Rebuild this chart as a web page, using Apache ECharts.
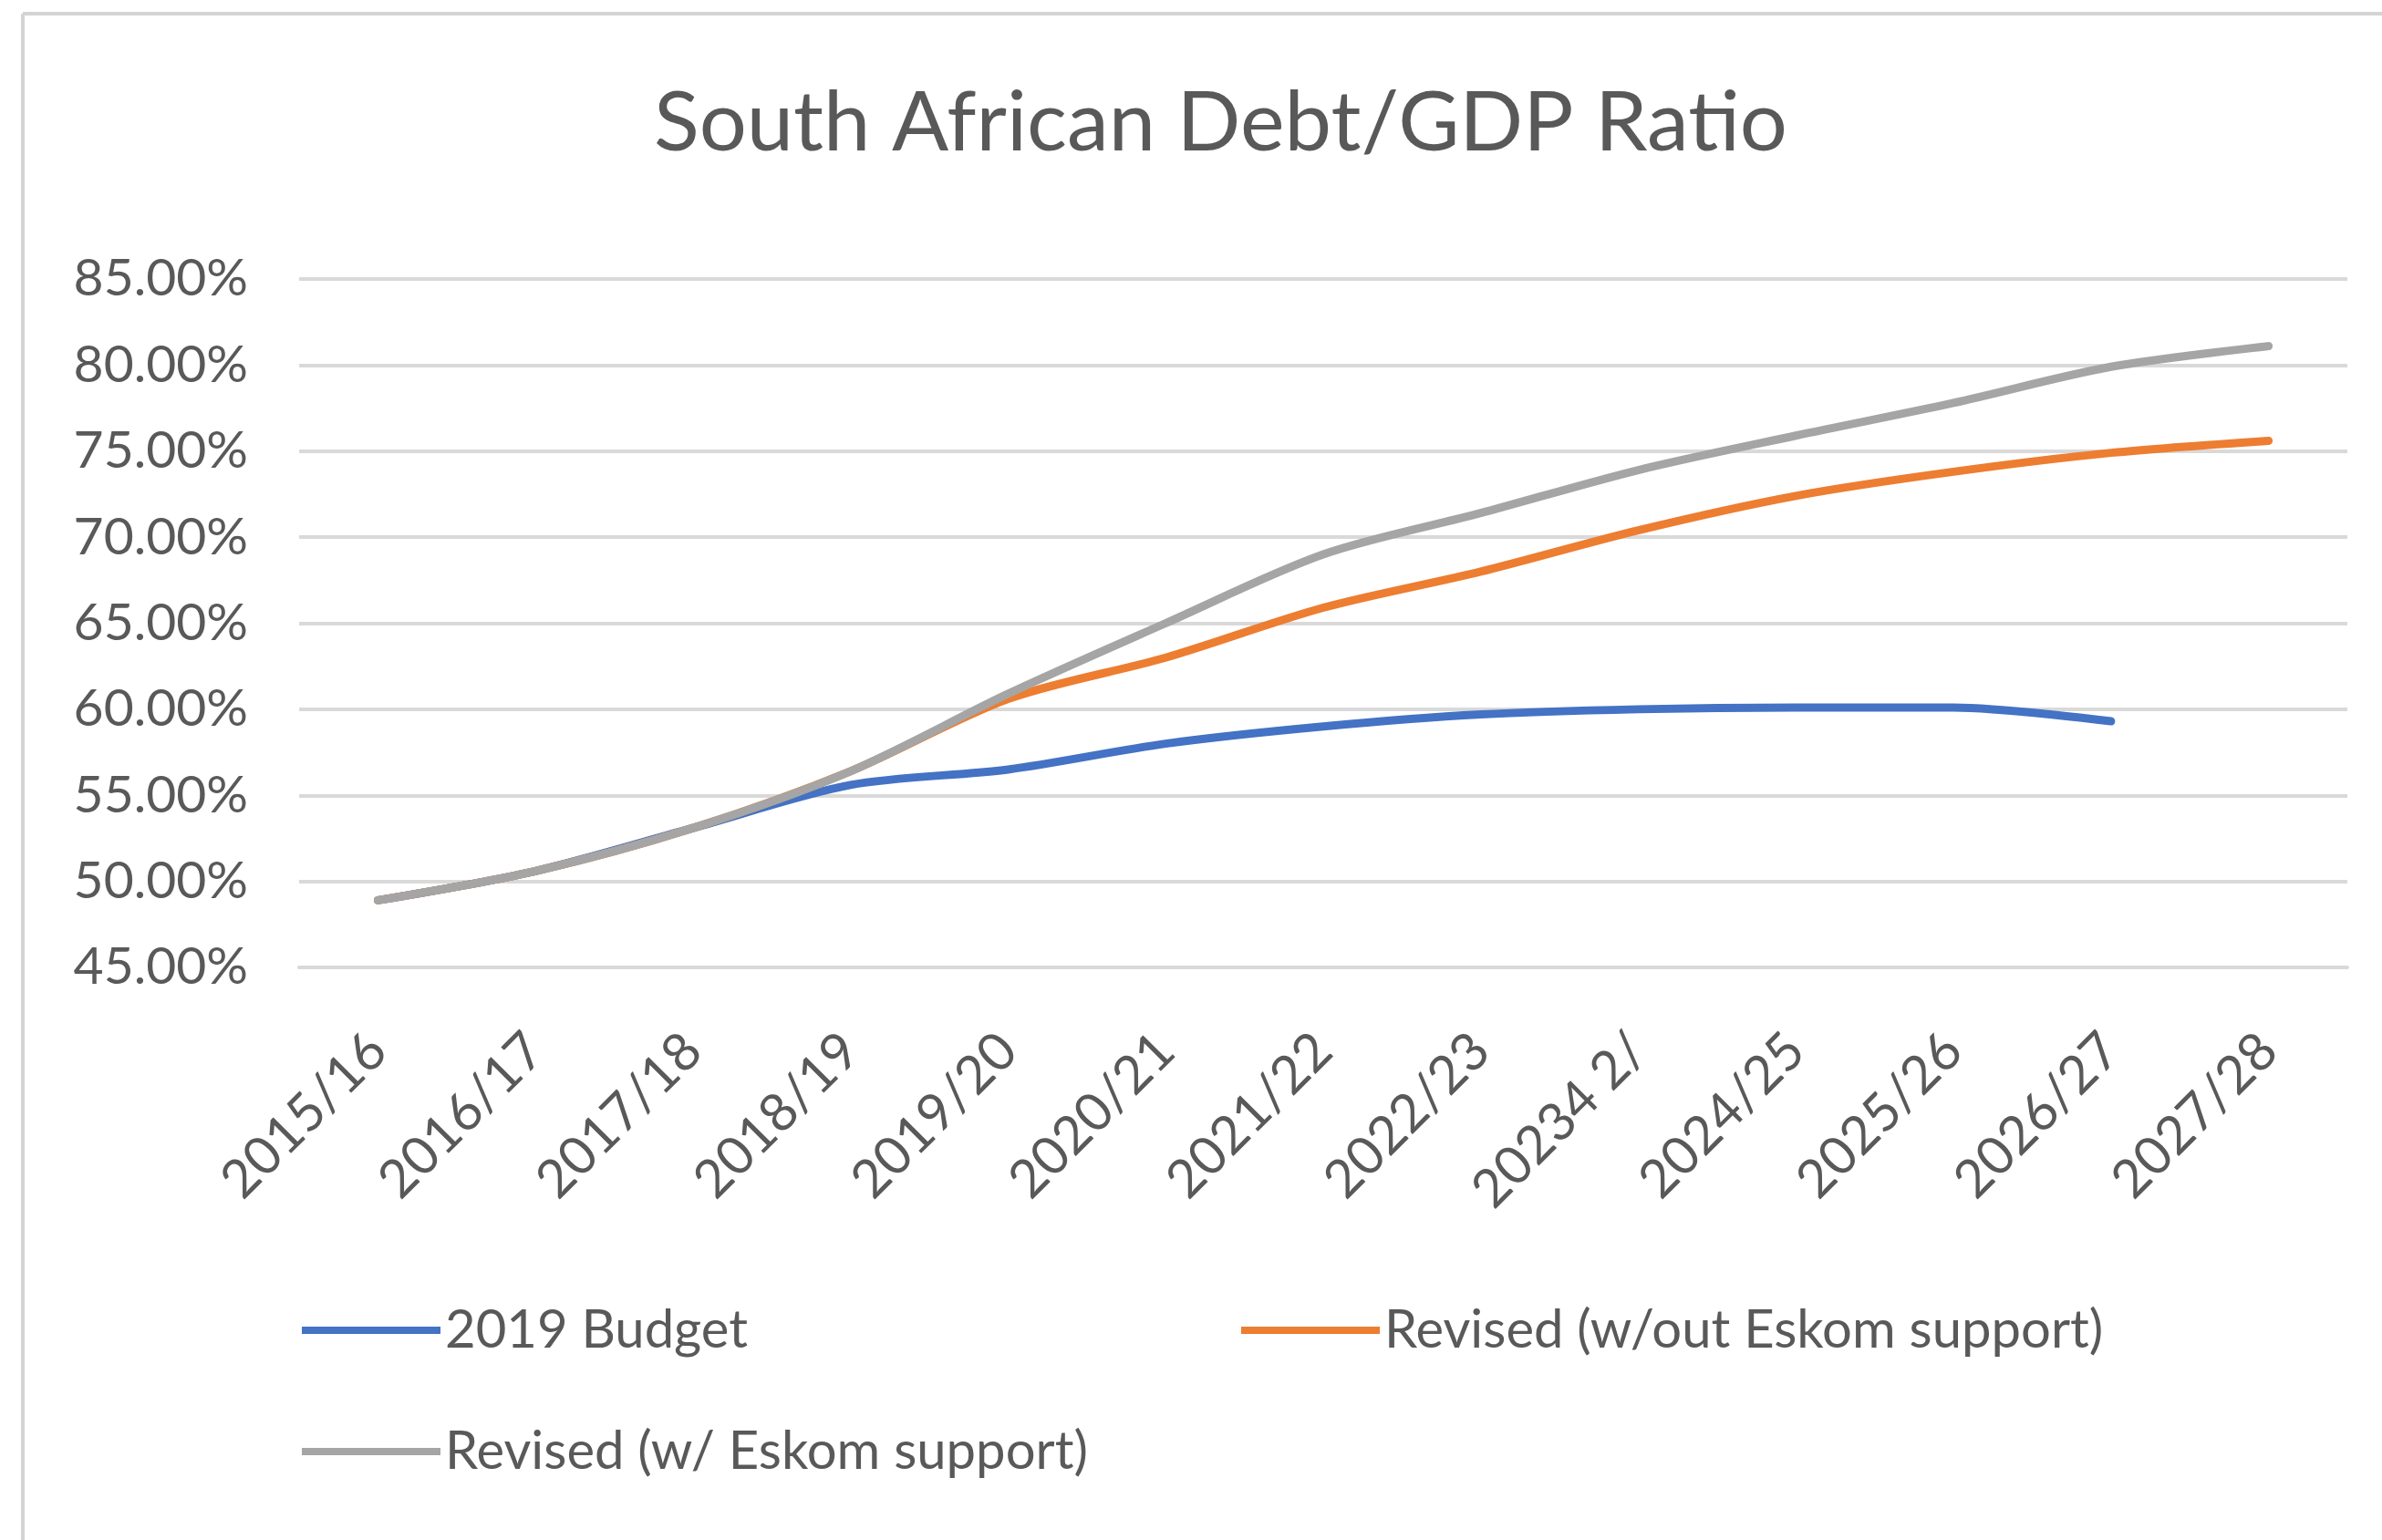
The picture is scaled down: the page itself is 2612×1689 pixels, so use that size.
<!DOCTYPE html>
<html>
<head>
<meta charset="utf-8">
<title>South African Debt/GDP Ratio</title>
<script src="https://cdn.jsdelivr.net/npm/echarts@6/dist/echarts.min.js"></script>
<style>
  html, body { margin: 0; padding: 0; background: #fff; }
  #chart { width: 2612px; height: 1689px; }
</style>
</head>
<body>
<div id="chart"></div>
<script>
const years = ['2015/16', '2016/17', '2017/18', '2018/19', '2019/20', '2020/21', '2021/22',
  '2022/23', '20234 2/', '2024/25', '2025/26', '2026/27', '2027/28'];

// debt / GDP, percent
const budget2019 = [48.9, 50.6, 53.1, 55.6, 56.5, 58.0, 59.0, 59.7, 60.0, 60.1, 60.1, 59.3, null];
const revisedNoEskom = [48.9, 50.6, 53.1, 56.4, 60.6, 63.0, 65.9, 68.0, 70.4, 72.4, 73.8, 74.9, 75.6];
const revisedEskom = [48.9, 50.6, 53.1, 56.4, 60.9, 65.0, 69.0, 71.4, 73.9, 75.9, 77.8, 79.9, 81.1];

const yMin = 45;
const yMax = 85;
const yStep = 5;

const font = 'Lato, "Open Sans", sans-serif';
const textColor = '#595959';

const chart = echarts.init(document.getElementById('chart'));

const legendBase = {
  icon: 'rect',
  itemWidth: 152,
  itemHeight: 8,
  textStyle: { fontFamily: font, fontSize: 58, color: textColor },
  selectedMode: false
};

const lineSeries = (name, data, color) => ({
  name,
  type: 'line',
  data,
  smooth: 0.3,
  symbol: 'none',
  connectNulls: false,
  lineStyle: { color, width: 9, cap: 'round' },
  itemStyle: { color }
});

chart.setOption({
  animation: false,
  backgroundColor: '#fff',
  title: {
    text: 'South African Debt/GDP Ratio',
    left: 712,
    top: 84,
    textStyle: { fontFamily: font, fontSize: 92, fontWeight: 'normal', color: textColor }
  },
  legend: [
    { ...legendBase, data: ['2019 Budget'], left: 326, top: 1425 },
    { ...legendBase, data: ['Revised (w/out Eskom support)'], left: 1356, top: 1425 },
    { ...legendBase, data: ['Revised (w/ Eskom support)'], left: 326, top: 1558 }
  ],
  grid: { left: 328, right: 38, top: 306, bottom: 628, containLabel: false },
  xAxis: {
    type: 'category',
    data: years,
    boundaryGap: true,
    axisLine: { show: true, lineStyle: { color: '#d9d9d9', width: 4 } },
    axisTick: { show: false },
    axisLabel: {
      rotate: 45,
      margin: 82,
      interval: 0,
      fontFamily: font,
      fontSize: 58,
      color: textColor
    }
  },
  yAxis: {
    type: 'value',
    min: yMin,
    max: yMax,
    interval: yStep,
    axisLine: { show: false },
    axisTick: { show: false },
    splitLine: { lineStyle: { color: '#d9d9d9', width: 4 } },
    axisLabel: {
      margin: 56,
      fontFamily: font,
      fontSize: 57,
      color: textColor,
      formatter: v => v.toFixed(2) + '%'
    }
  },
  series: [
    lineSeries('2019 Budget', budget2019, '#4472C4'),
    lineSeries('Revised (w/out Eskom support)', revisedNoEskom, '#ED7D31'),
    lineSeries('Revised (w/ Eskom support)', revisedEskom, '#A5A5A5')
  ],
  graphic: [
    // chart frame, only top and left edges are in view
    { type: 'line', shape: { x1: 25, y1: 15, x2: 2612, y2: 15 }, style: { stroke: '#d4d4d4', lineWidth: 4 } },
    { type: 'line', shape: { x1: 25, y1: 15, x2: 25, y2: 1689 }, style: { stroke: '#d4d4d4', lineWidth: 4 } }
  ]
});

window.addEventListener('resize', () => chart.resize());
</script>
</body>
</html>
